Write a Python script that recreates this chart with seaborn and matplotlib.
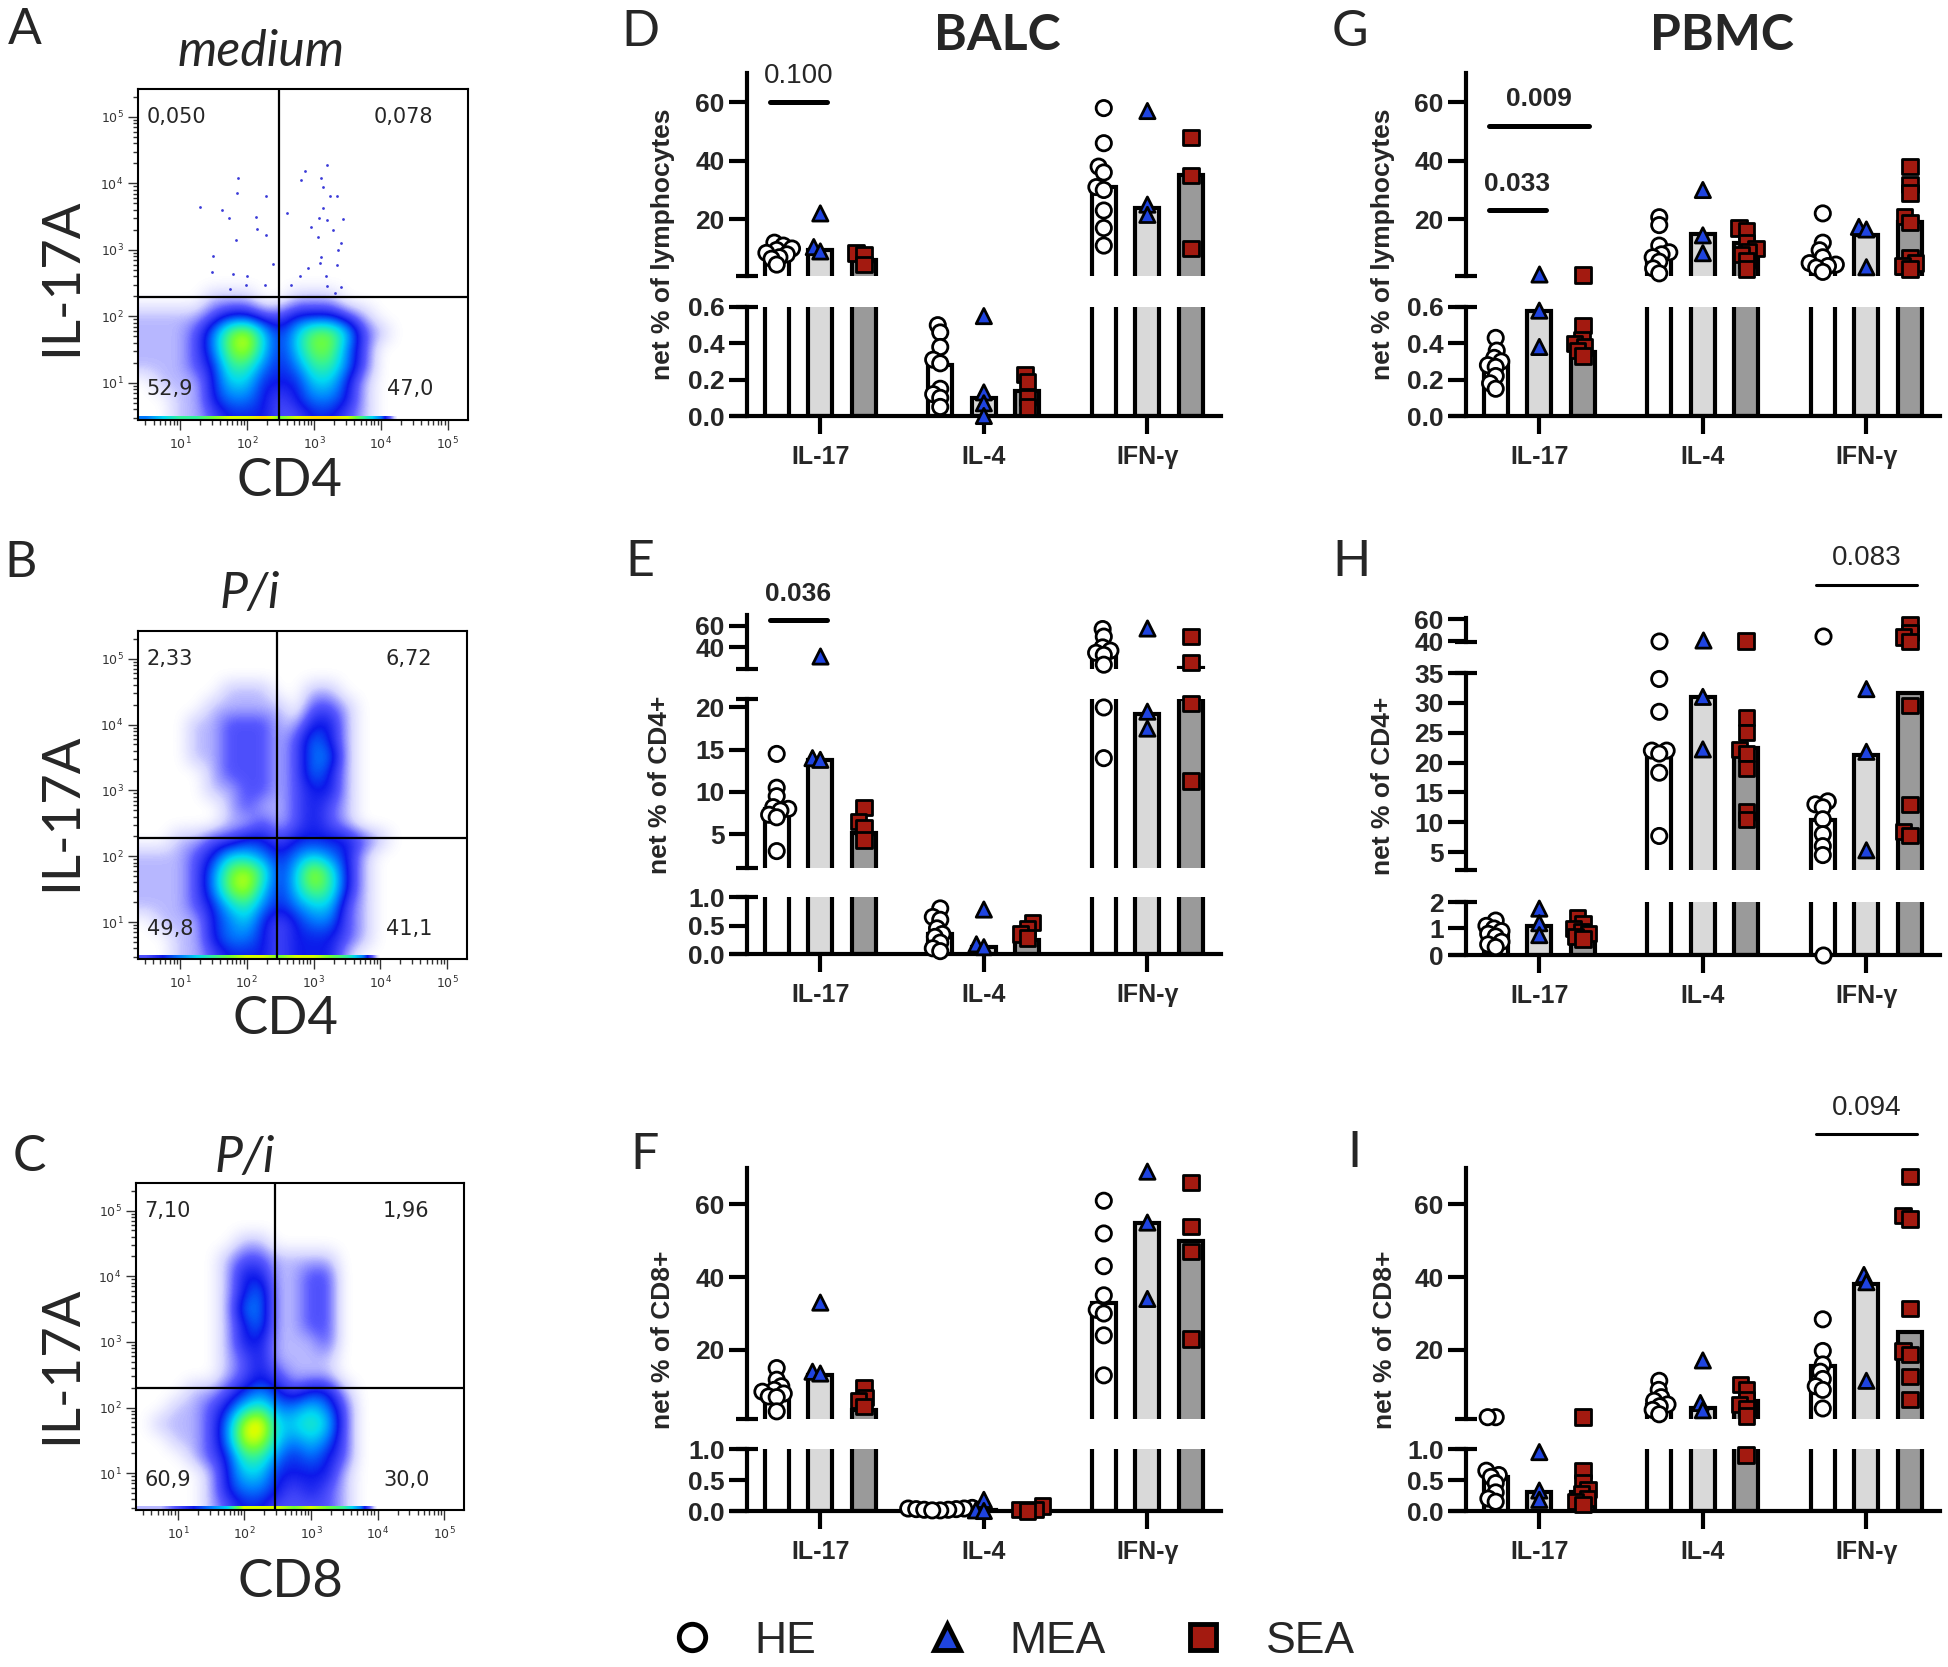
import numpy as np
import pandas as pd
import matplotlib
matplotlib.use("Agg")
import matplotlib.pyplot as plt
import seaborn as sns
from matplotlib.colors import LinearSegmentedColormap
from matplotlib.lines import Line2D
from matplotlib.patches import Rectangle

# ---------------------------------------------------------------- data
CYTOKINES = ["IL-17", "IL-4", "IFN-γ"]
GROUPS = ["HE", "MEA", "SEA"]

# per group: values for IL-17, IL-4, IFN-γ (one value per horse); bars = medians
D_POINTS = {
    "HE": [[12, 11, 10, 9.5, 8.5, 8, 7, 6.5, 4.5],
           [0.50, 0.46, 0.38, 0.31, 0.29, 0.15, 0.12, 0.10, 0.05],
           [58, 46, 38, 36, 31, 30, 23, 17, 11]],
    "MEA": [[22, 10.5, 9], [0.55, 0.13, 0.07, 0.0], [57, 25, 21.5]],
    "SEA": [[8.5, 8, 4.5], [0.23, 0.19, 0.10, 0.05], [48, 35, 10]],
}
D_BARS = {"HE": [7, 0.28, 31], "MEA": [9.5, 0.10, 24], "SEA": [6, 0.14, 35]}

E_POINTS = {
    "HE": [[14.5, 10.5, 9.5, 8.2, 8, 7.8, 7.3, 7, 3],
           [0.8, 0.65, 0.6, 0.45, 0.35, 0.3, 0.2, 0.1, 0.05],
           [57, 50, 40, 37, 35, 33, 24, 20, 14]],
    "MEA": [[32, 14, 13.8], [0.78, 0.17, 0.12], [58, 19.5, 17.5]],
    "SEA": [[8.2, 6.5, 5.8, 4.3], [0.55, 0.45, 0.35, 0.28], [50, 26, 20.5, 11.3]],
}
E_BARS = {"HE": [8, 0.35, 34], "MEA": [13.8, 0.12, 19.2], "SEA": [5.2, 0.25, 21]}

F_POINTS = {
    "HE": [[15, 11.8, 10, 9, 8.5, 8, 7.2, 7, 3.1],
           [0.05, 0.04, 0.04, 0.03, 0.03, 0.02, 0.02, 0.01, 0.01],
           [61, 52, 43, 35, 31, 30, 24, 13]],
    "MEA": [[33, 14, 13.5], [0.18, 0.01, 0.0], [69, 55, 34]],
    "SEA": [[9.5, 7, 6, 4.5], [0.08, 0.03, 0.02, 0.0], [66, 54, 47, 23]],
}
F_BARS = {"HE": [8, 0.03, 33], "MEA": [13, 0.01, 55], "SEA": [3.5, 0.03, 50]}

G_POINTS = {
    "HE": [[0.43, 0.36, 0.32, 0.30, 0.28, 0.27, 0.22, 0.18, 0.15],
           [20.7, 18, 11, 8.7, 8, 7, 5.5, 3.2, 1.5],
           [22, 12, 9.4, 7, 5, 4.5, 4, 3.5, 2]],
    "MEA": [[1.2, 0.58, 0.38], [30, 14.5, 8.4], [17.4, 16.5, 3.6]],
    "SEA": [[1.1, 0.5, 0.42, 0.4, 0.38, 0.36, 0.33],
            [17, 16, 12, 10, 9, 8, 6, 3],
            [38, 32, 29, 21, 19, 7, 5, 4, 3]],
}
G_BARS = {"HE": [0.28, 7, 4.4], "MEA": [0.58, 15, 14.5], "SEA": [0.35, 11.8, 19]}

H_POINTS = {
    "HE": [[1.3, 1.1, 1.0, 0.9, 0.8, 0.7, 0.5, 0.4, 0.3],
           [40, 34, 28.5, 22, 22, 21.5, 18.3, 7.7],
           [45, 13.5, 13, 12.5, 10.5, 8, 6, 4.5, 0.0]],
    "MEA": [[1.75, 1.2, 0.75], [41, 31, 22.2], [32.3, 21.8, 5.3]],
    "SEA": [[1.4, 1.2, 1.0, 0.9, 0.8, 0.7, 0.6],
            [40, 27.5, 25, 22.2, 21.5, 19, 11.7, 10.4],
            [55, 48, 44, 40, 29.5, 13, 8.5, 7.8]],
}
H_BARS = {"HE": [0.7, 21.5, 10.4], "MEA": [1.1, 31, 21.3], "SEA": [0.9, 22.5, 31.7]}

I_POINTS = {
    "HE": [[1.5, 1.5, 0.65, 0.58, 0.55, 0.45, 0.3, 0.2, 0.15],
           [11.5, 9, 7, 6, 5, 4.5, 3.5, 2.3],
           [28.4, 19.7, 16, 14, 12, 10, 9, 3.9]],
    "MEA": [[0.95, 0.33, 0.18], [17.1, 5.4, 3.4], [40.6, 38.6, 11.5]],
    "SEA": [[1.5, 0.65, 0.45, 0.35, 0.28, 0.2, 0.15, 0.1],
            [10.5, 9, 6.4, 4.9, 3.9, 1.8, 0.9],
            [67.7, 57, 56, 31.4, 19.7, 18.7, 12.6, 6.4]],
}
I_BARS = {"HE": [0.55, 4.9, 15.6], "MEA": [0.3, 3.9, 38], "SEA": [0.3, 5.9, 24.8]}

# significance bars: cytokine, group 1, group 2, value, p text, bold
D_SIGS = [("IL-17", "HE", "MEA", 60, "0.100", False)]
E_SIGS = [("IL-17", "HE", "MEA", 65.4, "0.036", True)]
G_SIGS = [("IL-17", "HE", "SEA", 52, "0.009", True), ("IL-17", "HE", "MEA", 23, "0.033", True)]
H_SIGS = [("IFN-γ", "HE", "SEA", 91, "0.083", False)]
I_SIGS = [("IFN-γ", "HE", "SEA", 79.3, "0.094", False)]

# flow cytometry density levels 0-9, 0.25-decade cells, rows from 10^5.25 downwards
A_DENSITY = [
    "0000111001110",
    "11112332233321",
    "111247853577521",
    "11124785357742",
    "11123664346642",
    "01113553335531",
    "00113443234431",
    "00112333223321",
]
B_DENSITY = [
    "0000011100110",
    "0000111110221",
    "0001122211331",
    "0001122212431",
    "0001122212441",
    "0000122212431",
    "0000112212331",
    "0000012112321",
    "0000011212321",
    "001122332333321",
    "11123554345431",
    "11124786358631",
    "11124785357631",
    "11123564345521",
    "01113453234421",
    "00113443233321",
    "0011233323331",
]
C_DENSITY = [
    "00000011",
    "000001221111",
    "000001331122",
    "000001341122",
    "000001441122",
    "000001341122",
    "000001331112",
    "000001231111",
    "000001232111",
    "0001123432331",
    "0011235644542",
    "0111248955652",
    "0011248854542",
    "0001236643432",
    "0000135533331",
    "0000134432321",
    "0000123322221",
]
# events piled up on the lower axis edge
A_EDGE = "4566788978998640"
B_EDGE = "2345678878876400"
C_EDGE = "1123458887876400"
# sparse IL-17A+ events in the medium control (log10 CD4, log10 IL-17A)
A_EVENTS_X = [1.30, 1.62, 1.73, 1.87, 1.85, 2.28, 2.14, 2.15, 2.28, 1.83, 1.49, 1.47,
              2.38, 2.00, 1.79, 1.98, 2.27, 1.75, 2.60, 2.81, 2.87, 3.10, 3.20, 3.13,
              3.24, 3.34, 3.13, 2.96, 3.08, 3.20, 3.43, 3.29, 3.06, 3.41, 3.36, 3.11,
              3.09, 3.35, 2.91, 3.18, 2.79, 2.66, 3.20, 3.40, 3.31]
A_EVENTS_Y = [3.64, 3.60, 3.48, 4.08, 3.85, 3.81, 3.50, 3.31, 3.23, 3.15, 2.91, 2.67,
              2.79, 2.61, 2.64, 2.47, 2.47, 2.41, 3.55, 4.05, 4.18, 4.08, 4.27, 3.94,
              3.81, 3.81, 3.63, 3.35, 3.48, 3.45, 3.46, 3.30, 3.20, 3.10, 3.00, 2.89,
              2.80, 2.77, 2.72, 2.61, 2.60, 2.47, 2.46, 2.44, 2.35]
A_QUADS = ["0,050", "0,078", "52,9", "47,0"]
B_QUADS = ["2,33", "6,72", "49,8", "41,1"]
C_QUADS = ["7,10", "1,96", "60,9", "30,0"]
GATES = [(2.48, 2.29), (2.46, 2.28), (2.46, 2.30)]

# ---------------------------------------------------------------- style
sns.set_theme(style="white")
plt.rcParams["font.family"] = ["Liberation Sans", "DejaVu Sans"]

BAR_COLORS = {"HE": "white", "MEA": "#d9d9d9", "SEA": "#9a9a9a"}
POINT_COLORS = {"HE": "white", "MEA": "#1f44e0", "SEA": "#a31a10"}
MARKERS = {"HE": "o", "MEA": "^", "SEA": "s"}
OFFSET = {"HE": -0.8 / 3, "MEA": 0.0, "SEA": 0.8 / 3}
POINT_SIZE = 11
POINT_EDGE = 2
LAYOUT_SIZE = 5
LAYOUT_EDGE = 0.5
LW = 3
XLIM = (-0.54, 2.45)
SPINE_X = -0.448
TICK_FS = 19

FLOW_CMAP = LinearSegmentedColormap.from_list("flow", [
    (0.0, (1, 1, 1)), (0.08, (0.84, 0.84, 1.0)), (0.2, (0.35, 0.35, 1.0)),
    (0.33, (0.05, 0.1, 0.92)), (0.45, (0.0, 0.5, 1.0)), (0.56, (0.0, 0.85, 0.95)),
    (0.67, (0.2, 0.95, 0.6)), (0.78, (0.45, 1.0, 0.2)), (0.89, (0.85, 1.0, 0.0)),
    (1.0, (1.0, 0.85, 0.0))])
FLOW_CMAP.set_under("white")

W, H = 1949, 1667
fig = plt.figure(figsize=(W / 100, H / 100), dpi=100)


def add_axes_px(x0, y0, x1, y1):
    return fig.add_axes([x0 / W, 1 - y1 / H, (x1 - x0) / W, (y1 - y0) / H])


def density(rows):
    rows = [r.ljust(20, "0") for r in rows]
    rows = ["0" * 20] * (20 - len(rows)) + rows
    return np.array([[int(c) for c in r] for r in rows], dtype=float)


def flow_panel(box, grid, edge, gate, quads, events=None):
    ax = add_axes_px(*box)
    ax.imshow(density(grid), extent=[0.375, 5.375, 0.375, 5.375], origin="upper",
              cmap=FLOW_CMAP, vmin=0, vmax=9, interpolation="bicubic", aspect="auto", zorder=1)
    strip = np.array([[int(c) for c in edge.ljust(20, "0")]], dtype=float)
    ax.imshow(strip, extent=[0.375, 5.375, 0.44, 0.50], cmap=FLOW_CMAP, vmin=0, vmax=9,
              interpolation="bilinear", aspect="auto", zorder=1.5)
    if events is not None:
        ax.scatter(events[0], events[1], s=4, color="#3a3ad8", lw=0, zorder=2)
    ax.axvline(gate[0], color="black", lw=1.6, zorder=3)
    ax.axhline(gate[1], color="black", lw=1.6, zorder=3)
    ax.set_xlim(0.37, 5.30)
    ax.set_ylim(0.44, 5.42)
    major = [1, 2, 3, 4, 5]
    minor_x = [k + np.log10(m) for k in range(0, 6) for m in range(2, 10)
               if 0.37 < k + np.log10(m) < 5.30]
    minor_y = [k + np.log10(m) for k in range(0, 6) for m in range(2, 10)
               if 0.44 < k + np.log10(m) < 5.42]
    labels = [f"$10^{{{k}}}$" for k in major]
    ax.set_xticks(major, labels)
    ax.set_yticks(major, labels)
    ax.set_xticks(minor_x, minor=True)
    ax.set_yticks(minor_y, minor=True)
    ax.tick_params(which="both", direction="out", color="#333333", width=1.0,
                   left=True, bottom=True, labelsize=9, labelcolor="#333333")
    ax.tick_params(which="major", length=7)
    ax.tick_params(which="minor", length=3.5)
    ax.tick_params(axis="x", pad=4)
    for sp in ax.spines.values():
        sp.set_color("black")
        sp.set_linewidth(1.5)
    qfont = dict(fontsize=15, family="DejaVu Sans", va="center", zorder=4)
    ax.text(0.50, 5.0, quads[0], ha="left", **qfont)
    ax.text(4.78, 5.0, quads[1], ha="right", **qfont)
    ax.text(0.50, 0.9, quads[2], ha="left", **qfont)
    ax.text(4.78, 0.9, quads[3], ha="right", **qfont)
    ax.grid(False)
    return ax


def long_table(points):
    rows = [(c, g, v) for g in GROUPS for c, vals in zip(CYTOKINES, points[g]) for v in vals]
    return pd.DataFrame(rows, columns=["cytokine", "group", "value"])


SWARMS = []


def bar_panel(points, bars, segments, x0, x1, sigs):
    pts = long_table(points)
    bar_df = pd.DataFrame([(c, g, bars[g][i]) for g in GROUPS for i, c in enumerate(CYTOKINES)],
                          columns=["cytokine", "group", "value"])

    def which(v):
        for k in range(len(segments) - 1, -1, -1):
            if v <= segments[k][1]:
                return k
        return 0

    pts["seg"] = pts["value"].map(which)
    axes = []
    n = len(segments)
    for k, (lo, hi, ticks, fmt, top, bottom) in enumerate(segments):
        ax = add_axes_px(x0, top, x1, bottom)
        ax.patch.set_alpha(0)
        sns.barplot(data=bar_df, x="cytokine", y="value", hue="group", order=CYTOKINES,
                    hue_order=GROUPS, palette=BAR_COLORS, edgecolor="black", linewidth=LW,
                    width=0.8, gap=0.45, errorbar=None, legend=False, ax=ax)
        # broken axis: bars that end below this segment vanish, the others open at the bottom
        for rect in list(ax.patches):
            bar_top = rect.get_y() + rect.get_height()
            if bar_top <= lo:
                rect.set_visible(False)
            elif k < n - 1:
                base = lo - (hi - lo)
                rect.set_y(base)
                rect.set_height(bar_top - base)
        seg_pts = pts[pts["seg"] == k]
        for g in GROUPS:
            sub = seg_pts[seg_pts["group"] == g]
            if len(sub) == 0:
                continue
            before = len(ax.collections)
            sns.swarmplot(data=sub, x="cytokine", y="value", hue="group", order=CYTOKINES,
                          hue_order=GROUPS, palette=POINT_COLORS, dodge=True,
                          marker=MARKERS[g], size=LAYOUT_SIZE, edgecolor="black",
                          linewidth=LAYOUT_EDGE, legend=False, clip_on=False, zorder=5, ax=ax)
            SWARMS.extend(ax.collections[before:])
        ax.set_xlim(*XLIM)
        ax.set_ylim(lo, hi)
        ax.set_xlabel("")
        ax.set_ylabel("")
        ax.grid(False)
        for side in ["top", "right"]:
            ax.spines[side].set_visible(False)
        ax.spines["left"].set_position(("data", SPINE_X))
        ax.spines["left"].set_linewidth(LW)
        ax.spines["left"].set_color("black")
        ax.set_yticks(ticks, [fmt.format(t) for t in ticks], fontsize=TICK_FS, fontweight="bold")
        ax.tick_params(axis="y", direction="out", length=13, width=LW, left=True,
                       pad=3, color="black")
        if k == n - 1:
            ax.spines["bottom"].set_linewidth(LW)
            ax.spines["bottom"].set_color("black")
            ax.set_xticks([0, 1, 2], CYTOKINES, fontsize=18, fontweight="bold")
            ax.tick_params(axis="x", direction="out", length=13, width=LW, bottom=True,
                           pad=8, color="black")
        else:
            ax.spines["bottom"].set_visible(False)
            ax.tick_params(axis="x", bottom=False, labelbottom=False)
        caps = []
        if k > 0:
            caps.append(hi)
        if k < n - 1:
            caps.append(lo)
        for yv in caps:
            ax.plot([SPINE_X - 0.065, SPINE_X + 0.065], [yv, yv], color="black", lw=LW,
                    solid_capstyle="butt", clip_on=False, zorder=6)
        axes.append(ax)
    top_ax = axes[0]
    for cyto, g1, g2, yv, text, bold in sigs:
        c = CYTOKINES.index(cyto)
        xa, xb = c + OFFSET[g1] - 0.04, c + OFFSET[g2] + 0.04
        top_ax.plot([xa, xb], [yv, yv], color="black",
                    lw=3.6 if (bold or text == "0.100") else 2.2,
                    solid_capstyle="round", clip_on=False, zorder=6)
        top_ax.annotate(text, xy=((xa + xb) / 2, yv), xytext=(0, 19), textcoords="offset points",
                        ha="center", va="center", fontsize=19 if bold else 20,
                        fontweight="bold" if bold else "normal", annotation_clip=False)
    return axes


# ---------------------------------------------------------------- flow panels
flow_panel((138, 89, 468, 420), A_DENSITY, A_EDGE, GATES[0], A_QUADS, (A_EVENTS_X, A_EVENTS_Y))
flow_panel((138, 631, 467, 959), B_DENSITY, B_EDGE, GATES[1], B_QUADS)
flow_panel((136, 1183, 464, 1510), C_DENSITY, C_EDGE, GATES[2], C_QUADS)

big = dict(family=["Lato", "DejaVu Sans"], ha="center", va="center")
for letter, x, y in [("A", 25, 30), ("B", 21, 563), ("C", 29, 1157),
                     ("D", 640, 32), ("E", 640, 562), ("F", 645, 1155),
                     ("G", 1350, 32), ("H", 1352, 562), ("I", 1354, 1153)]:
    fig.text(x / W, 1 - y / H, letter, fontsize=36, **big)
for text, x, y in [("medium", 261, 52), ("P/i", 250, 594), ("P/i", 245, 1158)]:
    fig.text(x / W, 1 - y / H, text, fontsize=36, style="italic", **big)
for text, x, y in [("CD4", 290, 481), ("CD4", 286, 1019), ("CD8", 290, 1582)]:
    fig.text(x / W, 1 - y / H, text, fontsize=38, **big)
for y in [277, 812, 1365]:
    fig.text(62 / W, 1 - y / H, "IL-17A", fontsize=38, rotation=90, **big)
fig.text(997 / W, 1 - 35 / H, "BALC", fontsize=36, fontweight="bold", **big)
fig.text(1722 / W, 1 - 35 / H, "PBMC", fontsize=36, fontweight="bold", **big)

# ---------------------------------------------------------------- bar panels
SEG_LYM = [(0.6, 70, [20, 40, 60], "{:.0f}", 73, 276), (0, 0.6, [0, 0.2, 0.4, 0.6], "{:.1f}", 307, 416)]
SEG_E = [(20, 70, [40, 60], "{:.0f}", 615, 669), (1, 21, [5, 10, 15, 20], "{:.0f}", 699, 868),
         (0, 1, [0, 0.5, 1.0], "{:.1f}", 897, 954)]
SEG_H = [(39.5, 61, [40, 60], "{:.0f}", 618, 642),
         (2, 35, [5, 10, 15, 20, 25, 30, 35], "{:.0f}", 673, 870),
         (0, 2, [0, 1, 2], "{:.0f}", 902, 955)]
SEG_CD8 = [(1, 70, [20, 40, 60], "{:.0f}", 1168, 1419), (0, 1, [0, 0.5, 1.0], "{:.1f}", 1449, 1511)]

LEFT_X = (732, 1221)
RIGHT_X = (1451, 1940)
bar_panel(D_POINTS, D_BARS, SEG_LYM, *LEFT_X, D_SIGS)
bar_panel(E_POINTS, E_BARS, SEG_E, *LEFT_X, E_SIGS)
bar_panel(F_POINTS, F_BARS, SEG_CD8, *LEFT_X, [])
bar_panel(G_POINTS, G_BARS, SEG_LYM, *RIGHT_X, G_SIGS)
bar_panel(H_POINTS, H_BARS, SEG_H, *RIGHT_X, H_SIGS)
bar_panel(I_POINTS, I_BARS, SEG_CD8, *RIGHT_X, I_SIGS)

for text, x, y in [("net % of lymphocytes", 663, 244), ("net % of CD4+", 660, 785),
                   ("net % of CD8+", 663, 1340), ("net % of lymphocytes", 1383, 244),
                   ("net % of CD4+", 1383, 786), ("net % of CD8+", 1385, 1340)]:
    fig.text(x / W, 1 - y / H, text, rotation=90, ha="center", va="center",
             fontsize=19, fontweight="bold")

# legend: one entry per group, placed along the bottom
for g, mx in zip(GROUPS, [692, 947, 1203]):
    handle = Line2D([], [], ls="", marker=MARKERS[g], markersize=19,
                    markerfacecolor=POINT_COLORS[g], markeredgecolor="black", markeredgewidth=3.5)
    fig.legend([handle], [g], loc="center left", bbox_to_anchor=((mx - 22) / W, 1 - 1641 / H),
               frameon=False, fontsize=32, handlelength=1.0, handletextpad=0.9, borderpad=0,
               borderaxespad=0)

# swarm layout is computed with a small footprint so points overlap as in the original,
# then frozen and drawn at full size
fig.canvas.draw()
for coll in SWARMS:
    coll.__dict__.pop("draw", None)
    coll.set_sizes([POINT_SIZE ** 2])
    coll.set_linewidth(POINT_EDGE)

# keep the empty bottom-left corner clean
fig.add_artist(Rectangle((0, 0), 30 / W, 30 / H, transform=fig.transFigure,
                         facecolor="white", edgecolor="none", zorder=1000))

fig.savefig("out.png", dpi=100)
